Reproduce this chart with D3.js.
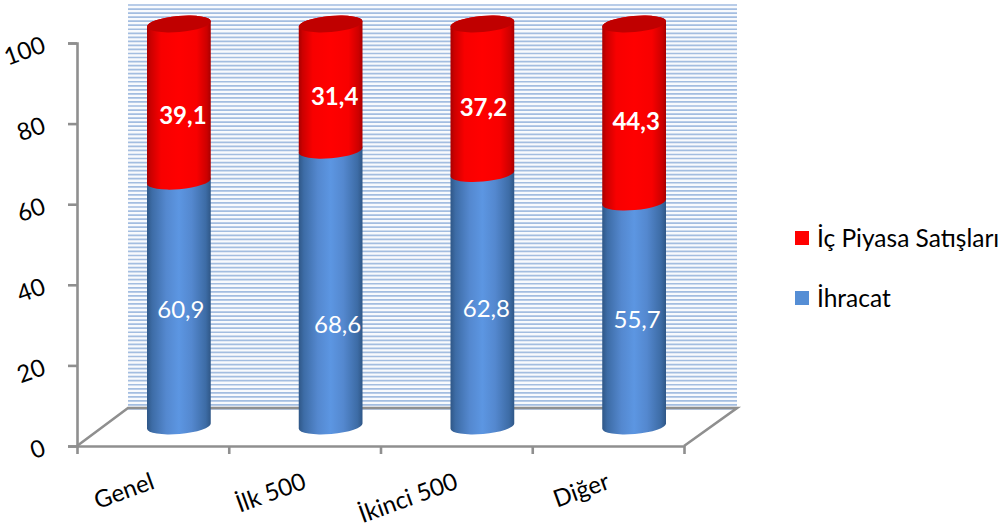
<!DOCTYPE html>
<html><head><meta charset="utf-8">
<script src="https://cdn.jsdelivr.net/npm/d3@7/dist/d3.min.js"></script>
<style>
html,body{margin:0;padding:0;background:#fff;overflow:hidden}
text{font-family:Lato,"Open Sans",sans-serif}
</style></head><body>
<script>
// Stacked share of sales per company group
const categories = ["Genel", "İlk 500", "İkinci 500", "Diğer"];
const ihracat = [60.9, 68.6, 62.8, 55.7];
const icPiyasa = [39.1, 31.4, 37.2, 44.3];
const yTicks = [0, 20, 40, 60, 80, 100];
const seriesNames = ["İç Piyasa Satışları", "İhracat"];

// Hand placement of the value labels relative to each segment's middle
const blueNudge = [[2, 6], [7, 36], [4, 9], [3, 6]];
const redNudge = [[4, 13], [4, 9], [1, 9], [2, 9]];

const W = 1003, H = 529;
const svg = d3.select("body").append("svg").attr("width", W).attr("height", H);
const defs = svg.append("defs");

function sideGradient(id, stops) {
  const g = defs.append("linearGradient").attr("id", id)
    .attr("x1", 0).attr("x2", 1).attr("y1", 0).attr("y2", 0);
  stops.forEach(([o, c]) => g.append("stop").attr("offset", o).attr("stop-color", c));
}
sideGradient("blueSide", [[0, "#2f5787"], [0.08, "#3d6ca6"], [0.3, "#5488cf"], [0.5, "#5c96e2"], [0.7, "#5488cf"], [0.92, "#3d6ca6"], [1, "#2f5787"]]);
sideGradient("redSide", [[0, "#a80000"], [0.06, "#cc0000"], [0.22, "#f80000"], [0.5, "#ff0000"], [0.78, "#f80000"], [0.94, "#cc0000"], [1, "#a80000"]]);

// Scales: front axis plane, back wall plane, and the cylinders in between
const yAxisScale = d3.scaleLinear().domain([0, 100]).range([446, 43]);
const wallScale = d3.scaleLinear().domain([0, 100]).range([408, 4]);
const yCyl = d3.scaleLinear().domain([0, 100]).range([426, 24]);
const xBand = d3.scaleBand().domain(categories).range([77, 684]);
const xEdges = d3.scaleLinear().domain([0, categories.length]).range([77, 684]);
const depth = 26;

// Back wall with its dense gridlines
const wall = { x0: 128, x1: 737 };
svg.append("rect").attr("x", wall.x0).attr("y", wallScale(100)).attr("width", wall.x1 - wall.x0)
  .attr("height", wallScale(0) - wallScale(100)).attr("fill", "#f8fafd");
svg.append("g").selectAll("line").data(wallScale.ticks(100)).join("line")
  .attr("x1", wall.x0).attr("x2", wall.x1)
  .attr("y1", d => wallScale(d) + 1).attr("y2", d => wallScale(d) + 1)
  .attr("stroke", "#a3bde0").attr("stroke-width", 1.7);

// Floor outline
const gray = "#8f8f8f";
const floor = d3.line()([
  [xEdges(0), yAxisScale(0)], [wall.x0, wallScale(0)], [wall.x1, wallScale(0)], [xEdges(4), yAxisScale(0)]
]);
svg.append("path").attr("d", floor).attr("fill", "none").attr("stroke", gray).attr("stroke-width", 2.6);

// Axes
const yAxis = svg.append("g").attr("transform", `translate(${xEdges(0)},0)`)
  .call(d3.axisLeft(yAxisScale).tickValues(yTicks).tickSize(9).tickSizeOuter(9));
yAxis.selectAll("path,line").attr("stroke", gray).attr("stroke-width", 2.6);
yAxis.selectAll("text").attr("font-size", 24).attr("fill", "#000").attr("x", 0).attr("dy", 0)
  .attr("text-anchor", "end")
  .attr("transform", "translate(-30,8) rotate(-20)");

const xTicks = svg.append("g").attr("transform", `translate(0,${yAxisScale(0)})`)
  .call(d3.axisBottom(xEdges).tickValues(d3.range(categories.length + 1)).tickFormat("").tickSize(8).tickSizeOuter(0));
xTicks.selectAll("path,line").attr("stroke", gray).attr("stroke-width", 2.6);

const xLabels = svg.append("g").attr("transform", `translate(0,${yAxisScale(0)})`)
  .call(d3.axisBottom(xBand).tickSize(0));
xLabels.select(".domain").remove();
xLabels.selectAll("text").attr("font-size", 24).attr("fill", "#000").attr("y", 0).attr("dy", 0)
  .attr("text-anchor", "end").attr("transform", "translate(3,42) rotate(-20)");

// Cylinders: tilted elliptical ends joined by straight sides
const rx = 32, ry = 8, tiltDeg = -5;
const tilt = tiltDeg * Math.PI / 180;
const dx = rx * Math.cos(tilt), dy = rx * Math.sin(tilt);
const cx = c => xBand(c) + xBand.bandwidth() / 2 + depth;
const arc = (sweep, x, y) => `A${rx},${ry} ${tiltDeg} 0 ${sweep} ${x},${y}`;

function segmentPath(c, v0, v1) {
  const x = cx(c), a = yCyl(v0), b = yCyl(v1);
  return `M${x - dx},${a - dy}L${x - dx},${b - dy}` + arc(1, x + dx, b + dy) +
    `L${x + dx},${a + dy}` + arc(1, x - dx, a - dy) + "Z";
}
function capPath(c, v) {
  const x = cx(c), a = yCyl(v);
  return `M${x - dx},${a - dy}` + arc(1, x + dx, a + dy) + arc(1, x - dx, a - dy) + "Z";
}

const rows = categories.map((c, i) => ({ c, blue: ihracat[i], red: icPiyasa[i], i }));
const bars = svg.append("g").selectAll("g").data(rows).join("g");
bars.append("path").attr("d", d => segmentPath(d.c, 0, d.blue)).attr("fill", "url(#blueSide)");
bars.append("path").attr("d", d => segmentPath(d.c, d.blue, d.blue + d.red)).attr("fill", "url(#redSide)");
bars.append("path").attr("d", d => capPath(d.c, d.blue + d.red)).attr("fill", "#c00000");

// Value labels use a decimal comma
const fmt = v => v.toFixed(1).replace(".", ",");
bars.append("text").text(d => fmt(d.blue))
  .attr("x", d => cx(d.c) + blueNudge[d.i][0])
  .attr("y", d => yCyl(d.blue / 2) + blueNudge[d.i][1])
  .attr("dy", "0.35em").attr("text-anchor", "middle").attr("font-size", 24).attr("fill", "#fff");
bars.append("text").text(d => fmt(d.red))
  .attr("x", d => cx(d.c) + redNudge[d.i][0])
  .attr("y", d => yCyl(d.blue + d.red / 2) + redNudge[d.i][1])
  .attr("dy", "0.35em").attr("text-anchor", "middle").attr("font-size", 24)
  .attr("font-weight", 700).attr("fill", "#fff");

// Legend
const legendColor = d3.scaleOrdinal().domain(seriesNames).range(["#ff0000", "#558ed5"]);
const legendY = d3.scalePoint().domain(seriesNames).range([238, 298]);
const legend = svg.append("g").selectAll("g").data(seriesNames).join("g")
  .attr("transform", d => `translate(795,${legendY(d)})`);
legend.append("rect").attr("x", 0).attr("y", -7).attr("width", 14).attr("height", 14).attr("fill", d => legendColor(d));
legend.append("text").text(d => d).attr("x", 22).attr("dy", "0.35em").attr("font-size", 24.5).attr("fill", "#000");
</script>
</body></html>
